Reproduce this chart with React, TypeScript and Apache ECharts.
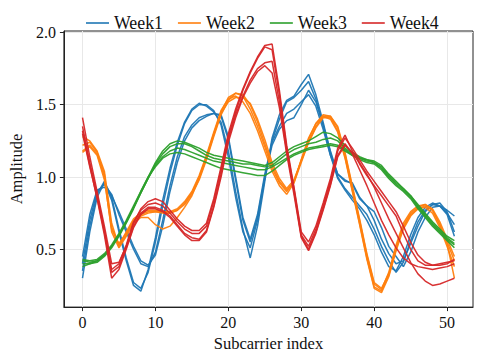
import React, { useEffect, useRef } from "react";
import * as echarts from "echarts";

const weekNames = ["Week1", "Week2", "Week3", "Week4"];
const weekColors = ["#1f77b4", "#ff7f0e", "#2ca02c", "#d62728"];
const xTicks = [0, 10, 20, 30, 40, 50];
const yTicks = [0.5, 1.0, 1.5, 2.0];

// Week1 (blue)
const week1A = [0.30,0.62,0.86,0.96,0.84,0.62,0.42,0.25,0.21,0.36,0.58,0.84,1.06,1.24,1.38,1.47,1.51,1.49,1.45,1.38,1.18,0.90,0.64,0.44,0.66,0.97,1.27,1.43,1.53,1.56,1.64,1.71,1.57,1.38,1.17,1.00,0.92,0.86,0.80,0.74,0.64,0.52,0.42,0.34,0.41,0.56,0.69,0.77,0.81,0.80,0.77,0.73];
const week1B = [0.35,0.66,0.88,0.97,0.86,0.64,0.44,0.27,0.23,0.34,0.55,0.80,1.03,1.22,1.37,1.46,1.50,1.50,1.46,1.36,1.14,0.86,0.62,0.51,0.70,0.99,1.25,1.40,1.52,1.55,1.60,1.66,1.54,1.36,1.15,0.99,0.91,0.84,0.78,0.70,0.60,0.48,0.38,0.35,0.45,0.60,0.72,0.79,0.82,0.80,0.75,0.67];
const week1C = [0.40,0.70,0.90,0.95,0.88,0.74,0.62,0.50,0.40,0.38,0.48,0.70,0.94,1.14,1.28,1.36,1.41,1.43,1.44,1.42,1.26,0.98,0.70,0.55,0.72,1.00,1.22,1.33,1.39,1.41,1.50,1.60,1.52,1.36,1.18,1.02,0.97,0.96,0.86,0.80,0.70,0.57,0.47,0.40,0.42,0.54,0.66,0.76,0.81,0.82,0.76,0.62];
const week1D = [0.45,0.74,0.91,0.93,0.87,0.76,0.64,0.52,0.42,0.39,0.46,0.66,0.90,1.10,1.25,1.34,1.39,1.42,1.44,1.43,1.28,1.00,0.72,0.57,0.74,1.02,1.24,1.35,1.44,1.47,1.52,1.57,1.49,1.33,1.15,1.02,0.98,0.95,0.85,0.80,0.76,0.65,0.52,0.45,0.38,0.48,0.62,0.72,0.79,0.80,0.74,0.59];

// Week2 (orange)
const week2A = [1.28,1.25,1.18,1.04,0.68,0.52,0.60,0.70,0.74,0.76,0.76,0.75,0.75,0.77,0.82,0.89,1.00,1.14,1.30,1.45,1.55,1.58,1.56,1.47,1.35,1.21,1.06,0.96,0.90,0.97,1.12,1.26,1.37,1.43,1.42,1.34,1.16,0.93,0.70,0.46,0.26,0.22,0.34,0.53,0.68,0.76,0.80,0.81,0.77,0.67,0.55,0.42];
const week2B = [1.22,1.24,1.17,1.02,0.65,0.53,0.62,0.71,0.75,0.77,0.77,0.76,0.75,0.77,0.81,0.88,0.98,1.12,1.28,1.43,1.53,1.58,1.57,1.50,1.38,1.23,1.08,0.97,0.91,0.96,1.10,1.24,1.35,1.42,1.42,1.35,1.17,0.94,0.71,0.47,0.27,0.23,0.33,0.51,0.66,0.75,0.79,0.81,0.78,0.69,0.57,0.45];
const week2C = [1.18,1.22,1.16,1.00,0.62,0.51,0.59,0.68,0.72,0.72,0.67,0.64,0.66,0.72,0.79,0.87,0.99,1.13,1.29,1.44,1.52,1.55,1.55,1.51,1.40,1.26,1.10,0.99,0.92,0.98,1.11,1.24,1.34,1.41,1.41,1.32,1.14,0.91,0.68,0.44,0.24,0.21,0.32,0.50,0.65,0.74,0.78,0.80,0.77,0.67,0.54,0.30];
const week2D = [1.17,1.21,1.15,0.98,0.64,0.54,0.61,0.69,0.73,0.75,0.76,0.76,0.76,0.78,0.83,0.90,1.01,1.15,1.31,1.46,1.54,1.56,1.52,1.44,1.32,1.18,1.04,0.94,0.88,0.96,1.12,1.27,1.37,1.42,1.40,1.31,1.13,0.90,0.67,0.43,0.23,0.20,0.31,0.49,0.64,0.73,0.78,0.79,0.75,0.65,0.52,0.38];

// Week3 (green)
const week3A = [0.42,0.41,0.42,0.46,0.52,0.60,0.69,0.79,0.90,1.00,1.10,1.18,1.23,1.25,1.24,1.22,1.20,1.17,1.15,1.14,1.13,1.12,1.11,1.10,1.09,1.08,1.10,1.14,1.18,1.21,1.23,1.25,1.28,1.31,1.30,1.27,1.22,1.17,1.14,1.12,1.11,1.08,1.02,0.97,0.92,0.87,0.81,0.75,0.69,0.64,0.59,0.56];
const week3B = [0.40,0.40,0.41,0.45,0.51,0.59,0.68,0.78,0.89,0.99,1.09,1.16,1.21,1.23,1.23,1.21,1.18,1.15,1.13,1.12,1.11,1.10,1.09,1.09,1.08,1.07,1.08,1.12,1.16,1.19,1.21,1.23,1.24,1.26,1.27,1.25,1.20,1.16,1.13,1.12,1.10,1.07,1.01,0.96,0.92,0.87,0.80,0.74,0.68,0.63,0.58,0.54];
const week3C = [0.38,0.40,0.42,0.46,0.52,0.60,0.69,0.79,0.89,0.99,1.08,1.14,1.18,1.20,1.19,1.17,1.15,1.13,1.11,1.10,1.09,1.08,1.07,1.06,1.05,1.05,1.07,1.10,1.13,1.16,1.18,1.20,1.21,1.22,1.23,1.22,1.19,1.15,1.13,1.11,1.10,1.06,1.00,0.95,0.91,0.86,0.79,0.73,0.67,0.62,0.57,0.53];
const week3D = [0.43,0.42,0.43,0.47,0.53,0.61,0.70,0.80,0.90,1.00,1.07,1.13,1.16,1.17,1.16,1.14,1.12,1.10,1.08,1.06,1.05,1.04,1.03,1.02,1.01,1.01,1.04,1.08,1.12,1.15,1.17,1.19,1.20,1.21,1.22,1.21,1.18,1.15,1.12,1.10,1.09,1.05,0.99,0.94,0.90,0.85,0.78,0.72,0.66,0.61,0.56,0.51];

// Week4 (red)
const week4A = [1.41,1.14,0.90,0.66,0.40,0.41,0.52,0.68,0.78,0.83,0.85,0.83,0.77,0.71,0.66,0.63,0.63,0.68,0.85,1.07,1.30,1.47,1.61,1.73,1.83,1.91,1.92,1.60,1.22,0.93,0.62,0.55,0.66,0.82,0.99,1.20,1.29,1.18,1.09,1.01,0.94,0.87,0.80,0.73,0.61,0.50,0.42,0.39,0.39,0.40,0.41,0.42];
const week4B = [1.35,1.10,0.88,0.63,0.36,0.40,0.53,0.69,0.77,0.81,0.82,0.80,0.75,0.69,0.64,0.61,0.61,0.66,0.83,1.05,1.28,1.45,1.60,1.72,1.82,1.90,1.88,1.57,1.20,0.92,0.60,0.52,0.64,0.80,0.97,1.18,1.27,1.20,1.12,1.04,0.97,0.90,0.83,0.76,0.66,0.55,0.46,0.41,0.39,0.39,0.40,0.43];
const week4C = [1.30,1.07,0.86,0.62,0.34,0.38,0.51,0.66,0.75,0.79,0.79,0.77,0.73,0.67,0.61,0.58,0.57,0.63,0.80,1.02,1.26,1.43,1.56,1.67,1.75,1.79,1.80,1.52,1.18,0.90,0.59,0.50,0.62,0.78,0.95,1.15,1.23,1.16,1.05,0.94,0.82,0.70,0.60,0.51,0.44,0.40,0.38,0.37,0.36,0.37,0.38,0.40];
const week4D = [1.32,1.08,0.85,0.60,0.30,0.36,0.50,0.65,0.74,0.78,0.78,0.76,0.72,0.66,0.60,0.56,0.56,0.62,0.79,1.00,1.24,1.41,1.55,1.65,1.73,1.77,1.72,1.48,1.16,0.88,0.58,0.49,0.61,0.77,0.94,1.14,1.22,1.17,1.10,1.02,0.93,0.82,0.71,0.61,0.51,0.41,0.33,0.28,0.25,0.26,0.28,0.30];

const weekLines = [
  [week1A, week1B, week1C, week1D],
  [week2A, week2B, week2C, week2D],
  [week3A, week3B, week3C, week3D],
  [week4A, week4B, week4C, week4D],
];

const FONT = "Liberation Serif";

export default function App() {
  const ref = useRef<HTMLDivElement>(null);
  useEffect(() => {
    if (!ref.current) return;
    const chart = echarts.init(ref.current, null, { renderer: "svg" });
    const series: any[] = [];
    weekLines.forEach((lines, w) => {
      lines.forEach((vals) => {
        series.push({
          name: weekNames[w],
          type: "line",
          symbol: "none",
          data: vals.map((v, i) => [i, v]),
          lineStyle: { color: weekColors[w], width: 1.5, opacity: 0.95 },
          itemStyle: { color: weekColors[w] },
          emphasis: { disabled: true },
        });
      });
    });
    chart.setOption({
      animation: false,
      textStyle: { fontFamily: FONT },
      grid: {
        left: 55,
        right: 6,
        top: 31,
        bottom: 49,
        show: true,
        borderColor: "#222",
        borderWidth: 1,
      },
      legend: {
        data: weekNames.map((n, i) => ({ name: n, itemStyle: { color: weekColors[i] } })),
        icon: "rect",
        left: 86,
        top: 14,
        padding: 0,
        itemWidth: 23,
        itemHeight: 1.6,
        itemGap: 15,
        textStyle: { fontFamily: FONT, fontSize: 17.8, lineHeight: 12, color: "#111" },
      },
      xAxis: {
        type: "value",
        min: -2.55,
        max: 53.55,
        name: "Subcarrier index",
        nameLocation: "middle",
        nameGap: 23,
        nameTextStyle: { fontFamily: FONT, fontSize: 16.5, color: "#111" },
        axisLine: { show: true, onZero: false, lineStyle: { color: "#222", width: 1 } },
        axisTick: { show: true, length: 4, customValues: xTicks, lineStyle: { color: "#222" } },
        axisLabel: { customValues: xTicks, fontFamily: FONT, fontSize: 16, color: "#111", margin: 7 },
        splitLine: { show: true, lineStyle: { color: "#e8e8e8", width: 1 } },
      },
      yAxis: {
        type: "value",
        min: 0.1,
        max: 2.01,
        name: "Amplitude",
        nameLocation: "middle",
        nameGap: 33,
        nameTextStyle: { fontFamily: FONT, fontSize: 16.5, color: "#111" },
        axisLine: { show: true, onZero: false, lineStyle: { color: "#222", width: 1 } },
        axisTick: { show: true, length: 4, customValues: yTicks, lineStyle: { color: "#222" } },
        axisLabel: {
          customValues: yTicks,
          fontFamily: FONT,
          fontSize: 16,
          lineHeight: 10,
          color: "#111",
          margin: 8,
          formatter: (v: number) => v.toFixed(1),
        },
        splitLine: { show: true, lineStyle: { color: "#e8e8e8", width: 1 } },
      },
      series,
    });
    return () => chart.dispose();
  }, []);
  return (
    <div
      ref={ref}
      style={{ position: "fixed", left: 0, top: 0, width: 479, height: 357, background: "#fff" }}
    />
  );
}
